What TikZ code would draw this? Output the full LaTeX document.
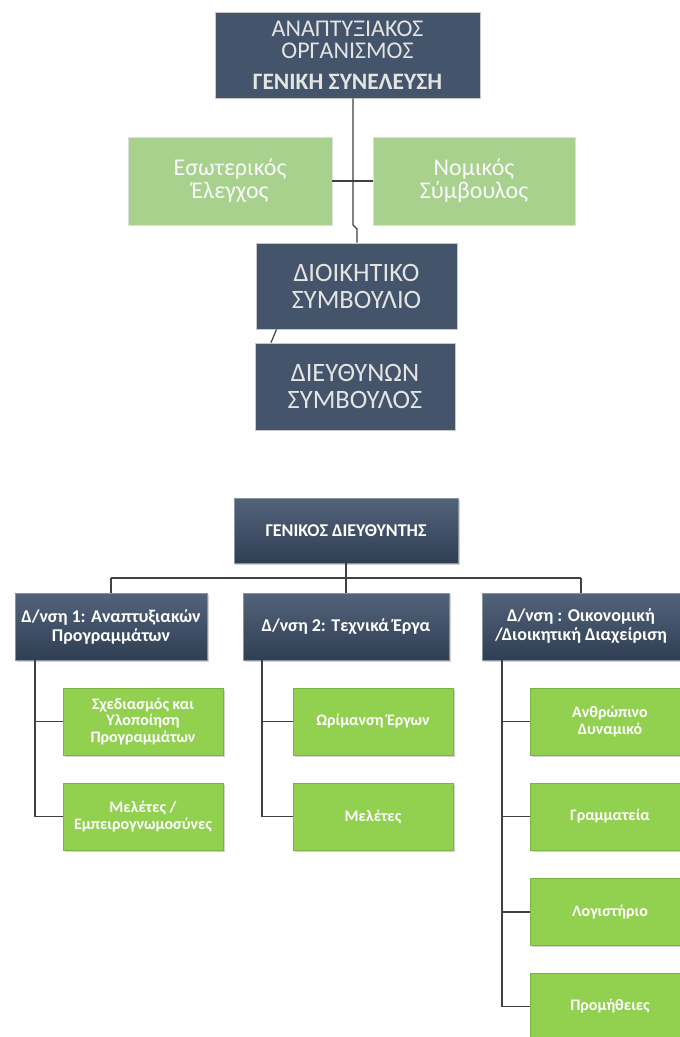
\documentclass[tikz,border=0pt]{standalone}
\usepackage{fontspec}
\setmainfont{Carlito}
\usetikzlibrary{shadows}
\definecolor{navytop}{HTML}{44546A}
\definecolor{navyhi}{HTML}{53637A}
\definecolor{navylo}{HTML}{2F3E53}
\definecolor{greentop}{HTML}{A9D18E}
\definecolor{greenbot}{HTML}{92D050}
\definecolor{edgegray}{HTML}{C8C8C8}
\definecolor{linegray}{HTML}{404040}
\definecolor{toptext}{HTML}{E4E4E4}
\tikzset{
  boxbase/.style={rectangle, inner sep=0pt, align=center},
  navyupper/.style={boxbase, fill=navytop, draw=edgegray, line width=0.8pt, text=toptext},
  greenupper/.style={boxbase, fill=greentop, draw=edgegray!60, line width=0.6pt, text=white!95!gray,
     font=\fontsize{24}{23}\selectfont},
  navylower/.style={boxbase, top color=navyhi, bottom color=navylo, draw=navyhi!70!white, line width=0.5pt,
     text=white, drop shadow={shadow xshift=1.5pt, shadow yshift=-1.5pt, opacity=0.35}},
  greenlower/.style={boxbase, fill=greenbot, draw=greenbot!85!black, line width=0.3pt, text=white,
     minimum width=160pt, minimum height=67pt,
     font=\bfseries\fontsize{16}{16.5}\selectfont,
     drop shadow={shadow xshift=1.5pt, shadow yshift=-1.5pt, opacity=0.35}},
  conn/.style={draw=linegray, line width=1.2pt}
}
\begin{document}
\begin{tikzpicture}[x=1pt,y=-1pt]
\useasboundingbox (0,0) rectangle (680,1037);
\fill[white] (0,0) rectangle (680,1037);

% upper part
\node[navyupper, minimum width=265pt, minimum height=86pt, font=\fontsize{24}{22}\selectfont] (ga) at (347.5,55)
  {ΑΝΑΠΤΥΞΙΑΚΟΣ\\ΟΡΓΑΝΙΣΜΟΣ\\[9pt]\bfseries\fontsize{23.5}{22}\selectfont ΓΕΝΙΚΗ ΣΥΝΕΛΕΥΣΗ};
\node[greenupper, minimum width=204pt, minimum height=88pt] (eso) at (230,181) {Εσωτερικός\\Έλεγχος};
\node[greenupper, minimum width=202pt, minimum height=88pt] (nom) at (474,181) {Νομικός\\Σύμβουλος};
\node[navyupper, minimum width=201pt, minimum height=86pt, font=\fontsize{26.5}{27}\selectfont] (dioik) at (356.5,286)
  {ΔΙΟΙΚΗΤΙΚΟ\\ΣΥΜΒΟΥΛΙΟ};
\node[navyupper, minimum width=200pt, minimum height=87pt, font=\fontsize{26.5}{27}\selectfont] (dieuth) at (355,386.5)
  {ΔΙΕΥΘΥΝΩΝ\\ΣΥΜΒΟΥΛΟΣ};

\coordinate (t1) at (353,225);
\coordinate (t2) at (357,229);
\draw[conn] (ga.south -| t1) -- (t1) -- (t2) -- (dioik.north -| t2);
\draw[conn] (eso.east) -- (nom.west);
\draw[conn] ([xshift=-80pt]dioik.south) -- ([xshift=-84pt]dieuth.north);

% lower part
\node[navylower, minimum width=224pt, minimum height=65pt, font=\bfseries\fontsize{18}{19}\selectfont] (gd) at (346,530.5)
  {ΓΕΝΙΚΟΣ ΔΙΕΥΘΥΝΤΗΣ};
\node[navylower, minimum width=192pt, minimum height=67pt, font=\bfseries\fontsize{18}{19}\selectfont] (d1) at (111,626.5)
  {Δ/νση 1: Αναπτυξιακών\\Προγραμμάτων};
\node[navylower, minimum width=206pt, minimum height=67pt, font=\bfseries\fontsize{18}{19}\selectfont] (d2) at (346,626.5)
  {Δ/νση 2: Τεχνικά Έργα};
\node[navylower, minimum width=198pt, minimum height=67pt, font=\bfseries\fontsize{18}{19}\selectfont] (d3) at (581,626.5)
  {Δ/νση : Οικονομική\\/Διοικητική Διαχείριση};

\node[greenlower] (g11) at (143,721.5) {Σχεδιασμός και\\Υλοποίηση\\Προγραμμάτων};
\node[greenlower] (g12) at (143,816.5) {Μελέτες /\\Εμπειρογνωμοσύνες};
\node[greenlower] (g21) at (373,721.5) {Ωρίμανση Έργων};
\node[greenlower] (g22) at (373,816.5) {Μελέτες};
\node[greenlower] (g31) at (610,721.5) {Ανθρώπινο\\Δυναμικό};
\node[greenlower] (g32) at (610,816.5) {Γραμματεία};
\node[greenlower] (g33) at (610,912) {Λογιστήριο};
\node[greenlower] (g34) at (610,1006.5) {Προμήθειες};

\coordinate (busL) at (111,578);
\coordinate (busR) at (581,578);
\draw[conn] (busL) -- (busR);
\draw[conn] (gd.south) -- (gd.south |- busL);
\draw[conn] (busL) -- (d1.north);
\draw[conn] (d2.north |- busL) -- (d2.north);
\draw[conn] (busR) -- (d3.north);

\coordinate (v1) at (35,0);
\coordinate (v2) at (262,0);
\coordinate (v3) at (502,0);
\draw[conn] (d1.south -| v1) |- (g12.west);
\draw[conn] (g11.west -| v1) -- (g11.west);
\draw[conn] (d2.south -| v2) |- (g22.west);
\draw[conn] (g21.west -| v2) -- (g21.west);
\draw[conn] (d3.south -| v3) |- (g34.west);
\draw[conn] (g31.west -| v3) -- (g31.west);
\draw[conn] (g32.west -| v3) -- (g32.west);
\draw[conn] (g33.west -| v3) -- (g33.west);
\end{tikzpicture}
\end{document}
